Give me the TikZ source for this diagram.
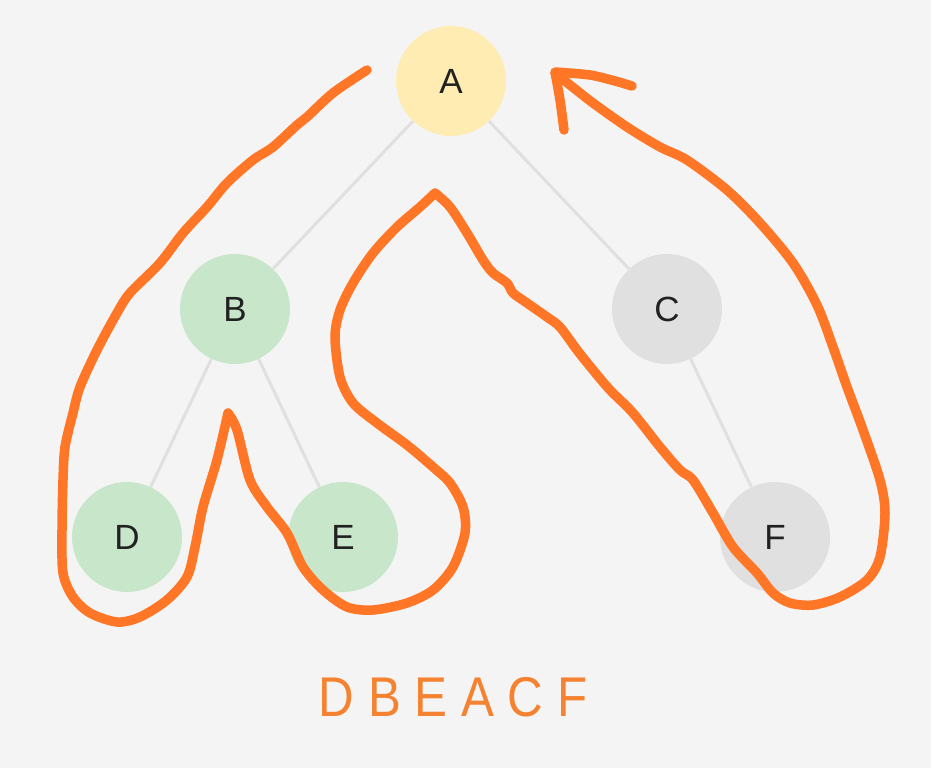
\documentclass[tikz,border=0pt]{standalone}
\usepackage{fontspec}
\setmainfont{Liberation Sans}
\definecolor{bgc}{HTML}{F4F4F4}
\definecolor{ayel}{HTML}{FFECB3}
\definecolor{bgreen}{HTML}{C8E6C9}
\definecolor{cgrey}{HTML}{E0E0E0}
\definecolor{edgec}{HTML}{E0E0E0}
\definecolor{inkc}{HTML}{212121}
\definecolor{penc}{RGB}{255,118,38}
\definecolor{txtc}{RGB}{245,130,48}
\begin{document}
\begin{tikzpicture}[x=1pt,y=-1pt,
  treenode/.style={circle,minimum size=110pt,inner sep=0pt,text=inkc,font=\fontsize{35}{40}\selectfont},
  treeedge/.style={draw=edgec,line width=3pt},
  pen/.style={draw=penc,line width=9.5pt,line cap=round,line join=round}]
\fill[bgc] (0,0) rectangle (931,768);
\useasboundingbox (0,0) rectangle (931,768);
\node[treenode,fill=ayel] (A) at (451,81) {A};
\node[treenode,fill=bgreen] (B) at (235,309) {B};
\node[treenode,fill=cgrey] (C) at (667,309) {C};
\node[treenode,fill=bgreen] (D) at (127,537) {D};
\node[treenode,fill=bgreen] (E) at (343,537) {E};
\node[treenode,fill=cgrey] (F) at (775,537) {F};
\draw[treeedge] (A) -- (B);
\draw[treeedge] (A) -- (C);
\draw[treeedge] (B) -- (D);
\draw[treeedge] (B) -- (E);
\draw[treeedge] (C) -- (F);
\draw[pen] plot[smooth,tension=0.5] coordinates {(367,70) (333,93) (307,117) (297,125) (273,147) (253,160) (227,183) (207,207) (183,233) (160,263) (130,293) (117,313) (97,350) (80,387) (73,413) (65,447) (63,480) (62,530) (63,573) (73,597) (90,613) (117,622) (140,617) (167,600) (187,577) (195,547) (203,507) (217,460) (228,413)}
 -- plot[smooth,tension=0.5] coordinates {(228,413) (237,430) (250,480) (267,507) (287,533) (303,567) (323,590) (347,607) (373,610) (407,603) (433,590) (453,567) (465,533) (463,507) (450,483) (433,467) (407,445) (377,423) (353,403) (340,377) (335,337) (340,310) (353,283) (373,253) (397,227) (420,207) (435,193)}
 -- plot[smooth,tension=0.5] coordinates {(435,193) (450,207) (467,233) (483,260) (493,273) (507,283) (513,293) (527,303) (547,317) (560,327) (577,350) (593,370) (610,390) (633,413) (660,447) (680,470) (693,480) (713,513) (733,547) (757,573) (773,593) (790,603) (813,605) (840,597) (867,580) (880,557) (885,513) (880,480) (863,430) (847,387) (833,347) (817,305) (793,263) (760,223) (727,190) (687,160) (660,147) (627,127) (593,103) (570,85) (555,73)};
\draw[pen] plot[smooth,tension=0.5] coordinates {(632,86) (615,81) (590,75) (555,72)}
 -- plot[smooth,tension=0.5] coordinates {(555,72) (560,100) (564,130)};
\node[text=txtc,font=\fontsize{56}{64}\selectfont] (order) at (453,697) {\scalebox{0.88}[1]{D B E A C F}};
\end{tikzpicture}
\end{document}
